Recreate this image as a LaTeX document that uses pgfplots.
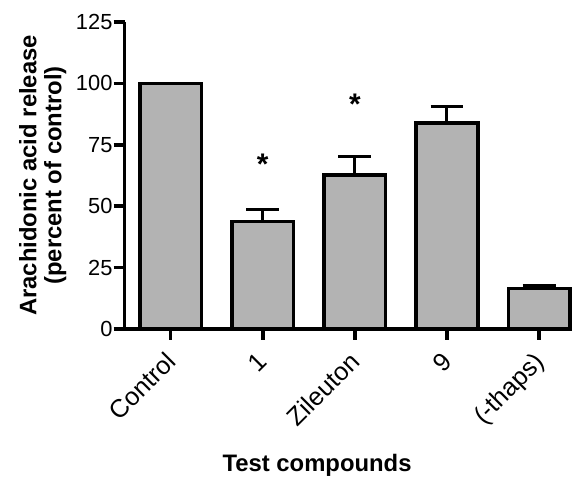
\documentclass[border=0pt]{standalone}
\usepackage{fontspec}
\setmainfont{Liberation Sans}
\usepackage{pgfplots}
\pgfplotsset{compat=1.18}
\definecolor{barfill}{RGB}{179,179,179}
\begin{document}
\begin{tikzpicture}
\begin{axis}[
  scale only axis,
  width=449bp, height=308bp,
  xmin=-0.5, xmax=4.36, ymin=0, ymax=125,
  axis x line=bottom, axis y line=left,
  axis line style={-, line width=3.5bp, black},
  xtick={0,1,2,3,4},
  xticklabels={Control,1,Zileuton,9,(-thaps)},
  ytick={0,25,50,75,100,125},
  tick align=outside,
  major tick length=11bp,
  tick style={line width=3.5bp, black},
  /pgf/number format/assume math mode=true,
  yticklabel style={font=\fontsize{22}{26}\selectfont, inner sep=1bp},
  xticklabel style={font=\fontsize{25.5}{28}\selectfont, rotate=45, anchor=north east, inner sep=1bp, yshift=-2bp, xshift=-11bp},
  ylabel={Arachidonic acid release\\(percent of control)},
  ylabel style={font=\bfseries\fontsize{24}{25}\selectfont, align=center, at={(axis description cs:-0.183,0.5)}, anchor=center},
  xlabel={Test compounds},
  xlabel style={font=\bfseries\fontsize{24}{28}\selectfont, at={(axis description cs:0.43,-0.465)}, anchor=base},
  clip=false,
]
\addplot[ybar, bar width=0.67, fill=barfill, draw=black, line width=3.5bp,
  error bars/.cd, y dir=plus, y explicit,
  error bar style={line width=3bp, black},
  error mark options={rotate=90, mark size=16.5bp, line width=3bp, black}]
  table[x=x, y=y, y error=e] {
x y e
0 100 0
1 43.7 5.0
2 62.6 7.8
3 83.8 6.6
4 16.5 1.4
};
\addplot[draw=none, mark=none, nodes near coords={*},
  every node near coord/.append style={anchor=center, font=\bfseries\fontsize{30}{32}\selectfont}]
  coordinates {(1,67.2) (2,91.6)};
\end{axis}
\path (-125bp,-146bp) rectangle (449bp,330bp);
\end{tikzpicture}
\end{document}
